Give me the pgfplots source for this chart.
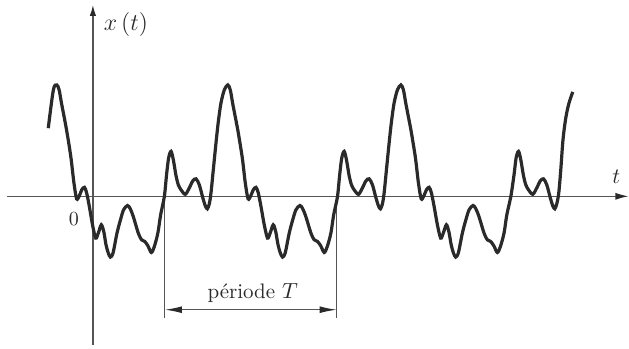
\documentclass[border=0pt]{standalone}
\usepackage{pgfplots}
\pgfplotsset{compat=1.18}
\usetikzlibrary{arrows.meta}
\definecolor{curvecol}{HTML}{2A2A2A}
\definecolor{axcol}{HTML}{555555}
\begin{document}
\begin{tikzpicture}
\begin{axis}[width=314.5pt,height=174.5pt,scale only axis,
  xmin=0,xmax=629,ymin=0,ymax=349,y dir=reverse,hide axis,clip=false]
\path (axis cs:0,0) rectangle (axis cs:629,349);
% axes
\draw[axcol,line width=0.6pt,-{Latex[length=6.5pt,width=3.5pt,color=curvecol]}] (axis cs:7,196.5) -- (axis cs:629,196.5);
\draw[axcol,line width=0.6pt,-{Latex[length=5.5pt,width=3.2pt,color=curvecol]}] (axis cs:93,345) -- (axis cs:93,5);
% period markers
\draw[axcol,line width=0.6pt] (axis cs:165,196.5) -- (axis cs:165,318);
\draw[axcol,line width=0.6pt] (axis cs:337,196.5) -- (axis cs:337,318);
\draw[axcol,line width=0.6pt,{Latex[length=8.5pt,width=3.4pt,color=curvecol]}-{Latex[length=8.5pt,width=3.4pt,color=curvecol]}] (axis cs:165,310) -- (axis cs:337,310);
\node[font=\fontsize{10.5}{12}\selectfont,text=curvecol] at (axis cs:253,293) {période $T$};
\node[font=\fontsize{11.5}{13}\selectfont,text=curvecol] at (axis cs:126,25) {$x\,(t)$};
\node[font=\fontsize{11}{13}\selectfont,text=curvecol] at (axis cs:617,177) {$t$};
\node[font=\fontsize{10}{12}\selectfont,text=curvecol] at (axis cs:74,219) {0};
\addplot[curvecol,line width=1.6pt,smooth,tension=0.5] coordinates {
(48.3,128.3) (53.4,90) (56.8,85) (59.2,90) (61.5,103) (64.2,117) (66.6,130) (69.1,145)
(71.3,160) (74,183) (76.7,199) (79.4,196) (81.8,190) (84.5,187.5) (86.7,193) (89.4,206.5)
(92.6,225) (95.8,238.3) (98.5,233) (101.4,225) (103.9,232) (106.1,245) (108.3,253) (110.5,257.3)
(113.2,253) (117.1,233.3) (120.6,220) (123.7,210) (127.6,205.7) (130.4,209) (133.5,217) (138.4,233.3)
(141.7,240) (144.9,241.7) (148,246) (151.5,252.7) (154.4,247) (158,233.3) (160.8,215) (164.5,196.7)
(166.7,175) (168.8,158) (171.2,151.5) (173.5,160) (176.2,176) (178.5,185) (181.2,190) (185.5,194.5)
(189.5,188) (193,181) (196.2,179) (199.5,185) (203,198) (205.5,206) (207.5,209) (209.5,204)
(211.2,193) (213.5,170) (216.2,143) (218.5,122) (221.2,103) (224.5,90) (228,85) (230.5,90)
(232.8,103) (235.5,117) (238,130) (240.5,145) (242.8,160) (245.5,183) (248.3,199) (251,196)
(253.5,190) (256.2,187.5) (258.5,193) (261.2,206.5) (264.5,225) (267.8,238.3) (270.5,233) (273.5,225)
(276,232) (278.3,245) (280.5,253) (282.8,257.3) (285.5,253) (289.5,233.3) (293,220) (296.2,210)
(300.2,205.7) (303,209) (306.2,217) (311.2,233.3) (314.5,240) (317.8,241.7) (321,246) (324.5,252.7)
(327.5,247) (331.2,233.3) (334,215) (337.8,196.7)
(340,175) (342.1,158) (344.5,151.5) (346.8,160) (349.5,176) (351.8,185) (354.5,190) (358.8,194.5)
(362.8,188) (366.3,181) (369.5,179) (372.8,185) (376.3,198) (378.8,206) (380.8,209) (382.8,204)
(384.5,193) (386.8,170) (389.5,143) (391.8,122) (394.5,103) (397.8,90) (401.3,85) (403.8,90)
(406.1,103) (408.8,117) (411.3,130) (413.8,145) (416.1,160) (418.8,183) (421.6,199) (424.3,196)
(426.8,190) (429.5,187.5) (431.8,193) (434.5,206.5) (437.8,225) (441.1,238.3) (443.8,233) (446.8,225)
(449.3,232) (451.6,245) (453.8,253) (456.1,257.3) (458.8,253) (462.8,233.3) (466.3,220) (469.5,210)
(473.5,205.7) (476.3,209) (479.5,217) (484.5,233.3) (487.8,240) (491.1,241.7) (494.3,246) (497.8,252.7)
(500.8,247) (504.5,233.3) (507.3,215) (511.3,196.7)
(514.5,175) (516.6,158) (519,151.5) (521.3,160) (524,176) (526.3,185) (529,190) (533.3,194.5)
(537.3,188) (540.8,181) (544,179) (547.3,185) (550.8,198) (553.3,206) (555.3,209) (557.3,204)
(559.3,193) (561.3,170) (563.5,140) (566,120) (568.3,108) (570.5,100) (573.3,92)
};
\end{axis}
\end{tikzpicture}
\end{document}
